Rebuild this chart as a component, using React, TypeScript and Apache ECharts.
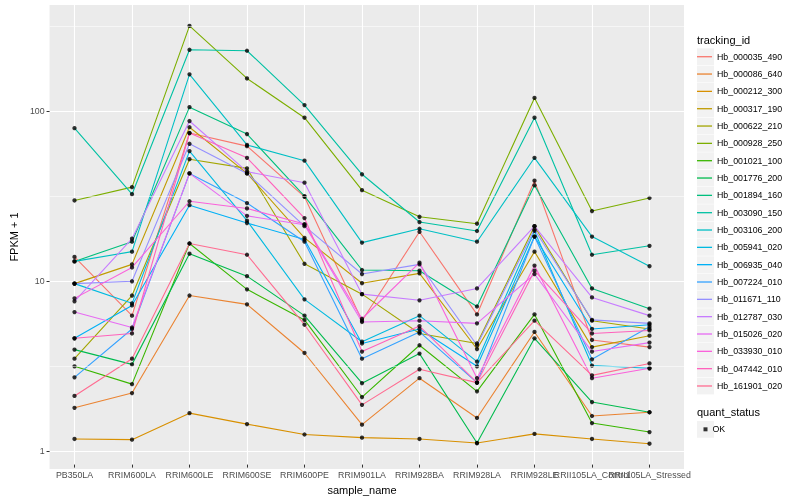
import React, { useEffect, useRef } from "react";
import * as echarts from "echarts";

const categories = [
  "PB350LA", "RRIM600LA", "RRIM600LE", "RRIM600SE", "RRIM600PE", "RRIM901LA",
  "RRIM928BA", "RRIM928LA", "RRIM928LE", "RRII105LA_Control", "RRII105LA_Stressed",
];

const trackingIds = [
  "Hb_000035_490", "Hb_000086_640", "Hb_000212_300", "Hb_000317_190", "Hb_000622_210",
  "Hb_000928_250", "Hb_001021_100", "Hb_001776_200", "Hb_001894_160", "Hb_003090_150",
  "Hb_003106_200", "Hb_005941_020", "Hb_006935_040", "Hb_007224_010", "Hb_011671_110",
  "Hb_012787_030", "Hb_015026_020", "Hb_033930_010", "Hb_047442_010", "Hb_161901_020",
];

const lineColors = [
  "#F8766D", "#EA8331", "#D89000", "#C09B00", "#A3A500", "#7CAE00", "#39B600", "#00BB4E",
  "#00BF7D", "#00C1A3", "#00BFC4", "#00BAE0", "#00B0F6", "#35A2FF", "#9590FF", "#C77CFF",
  "#E76BF3", "#FA62DB", "#FF62BC", "#FF6C91",
];

const quantStatus = ["OK"];
const yTicks = [1, 10, 100];
const yMinorTicks = [3.1623, 31.623, 316.23];

// FPKM + 1 values per tracking id, in category order
const hb_000035_490 = [13.4, 6.0, 73, 61, 30.5, 5.6, 18.9, 6.1, 38, 4.3, 3.9];
const hb_000086_640 = [1.7, 2.08, 7.9, 7.0, 3.6, 1.35, 2.55, 1.48, 4.8, 1.52, 1.6];
const hb_000212_300 = [1.11, 1.1, 1.58, 1.36, 1.18, 1.13, 1.11, 1.05, 1.19, 1.11, 1.04];
const hb_000317_190 = [9.3, 12.1, 79, 42, 17.4, 9.35, 10.7, 3.8, 14.4, 3.9, 4.56];
const hb_000622_210 = [3.33, 7.9, 51, 45, 12.2, 8.05, 4.7, 4.1, 20.4, 5.6, 5.0];
const hb_000928_250 = [29, 34.8, 316, 154, 90, 33.4, 23.2, 21.1, 118, 25.1, 30];
const hb_001021_100 = [3.0, 2.35, 16.1, 8.6, 5.66, 1.97, 4.0, 2.13, 6.1, 1.38, 1.22];
const hb_001776_200 = [3.77, 3.08, 14.0, 10.3, 6.0, 2.38, 3.57, 1.05, 4.4, 1.84, 1.6];
const hb_001894_160 = [12.6, 16.5, 104, 72, 30.8, 11.2, 11.1, 6.8, 35.7, 8.7, 6.6];
const hb_003090_150 = [78, 31.6, 228, 225, 107, 41.5, 21.6, 19.1, 90, 13.8, 15.6];
const hb_003106_200 = [12.6, 14.4, 163, 62, 50, 16.3, 19.7, 16.5, 52, 17.7, 11.8];
const hb_005941_020 = [9.3, 7.1, 57, 22, 7.5, 4.2, 6.0, 3.2, 19.1, 3.03, 2.92];
const hb_006935_040 = [4.4, 6.9, 27.2, 21.3, 17.0, 4.1, 5.0, 3.0, 17.7, 5.0, 5.3];
const hb_007224_010 = [2.58, 5.0, 42, 28, 16.5, 3.33, 4.8, 2.4, 17.7, 3.3, 5.15];
const hb_011671_110 = [9.3, 9.6, 63, 42, 20.4, 10.6, 12.1, 4.0, 19.5, 5.66, 5.4];
const hb_012787_030 = [7.3, 17.2, 86, 43, 37, 8.05, 7.4, 8.7, 20.4, 7.7, 6.0];
const hb_015026_020 = [6.3, 5.1, 42, 23.5, 20.8, 5.5, 5.6, 5.4, 10.6, 3.67, 4.15];
const hb_033930_010 = [7.6, 11.6, 28.7, 26, 21, 5.75, 12.4, 2.55, 11.9, 2.55, 2.92];
const hb_047442_010 = [4.4, 4.7, 73, 52, 22.8, 3.67, 5.2, 2.4, 11.1, 4.7, 4.9];
const hb_161901_020 = [2.0, 3.33, 16.1, 13.8, 5.3, 1.77, 2.88, 2.4, 5.6, 2.65, 3.12];

const seriesValues = [
  hb_000035_490, hb_000086_640, hb_000212_300, hb_000317_190, hb_000622_210,
  hb_000928_250, hb_001021_100, hb_001776_200, hb_001894_160, hb_003090_150,
  hb_003106_200, hb_005941_020, hb_006935_040, hb_007224_010, hb_011671_110,
  hb_012787_030, hb_015026_020, hb_033930_010, hb_047442_010, hb_161901_020,
];

const FONT = '"Liberation Sans", Arial, Helvetica, sans-serif';

export default function App() {
  const ref = useRef<HTMLDivElement>(null);

  useEffect(() => {
    if (!ref.current) return;
    const chart = echarts.init(ref.current, null, { renderer: "svg" });

    const W = 800;
    const H = 500;
    const panelLeft = 40;
    const panelRight = 684;
    const panelTop = 5;
    const panelBottom = 469;
    const step = (panelRight - panelLeft) / (categories.length - 1 + 1.2);
    const pad = 0.6 * step;
    const yMin = Math.pow(10, -0.107);
    const yMax = Math.pow(10, 2.624);

    const legendLeft = 697;
    const legendTop = 48.05;
    const legendPitch = 17.33;
    const okTop = 420.65;

    const keyBoxes: any[] = trackingIds.map((_, i) => ({
      type: "rect",
      silent: true,
      z: 0,
      shape: { x: legendLeft, y: legendTop + i * legendPitch + 0.3, width: 17, height: 16.8 },
      style: { fill: "#F2F2F2" },
    }));
    keyBoxes.push({
      type: "rect",
      silent: true,
      z: 0,
      shape: { x: legendLeft, y: okTop + 0.3, width: 17, height: 16.8 },
      style: { fill: "#F2F2F2" },
    });

    const pointData: any[] = [];
    seriesValues.forEach((vals) => {
      vals.forEach((v, j) => pointData.push([categories[j], v]));
    });

    const lineSeries = trackingIds.map((id, i) => ({
      name: id,
      type: "line",
      xAxisIndex: 1,
      yAxisIndex: 1,
      data: seriesValues[i],
      color: lineColors[i],
      symbol: "none",
      showSymbol: false,
      lineStyle: { color: lineColors[i], width: 1.1 },
      silent: true,
      z: 2,
    }));

    const option: any = {
      animation: false,
      textStyle: { fontFamily: FONT },
      title: [
        {
          text: "tracking_id",
          left: legendLeft,
          top: 34,
          padding: 0,
          textStyle: { fontSize: 11, fontWeight: "normal", color: "#000000", fontFamily: FONT },
        },
        {
          text: "quant_status",
          left: legendLeft,
          top: 406,
          padding: 0,
          textStyle: { fontSize: 11, fontWeight: "normal", color: "#000000", fontFamily: FONT },
        },
      ],
      legend: [
        {
          data: trackingIds,
          orient: "vertical",
          left: legendLeft,
          top: legendTop,
          padding: 0,
          itemGap: 0,
          itemWidth: 15,
          itemHeight: 1.3,
          icon: "rect",
          selectedMode: false,
          itemStyle: { borderWidth: 0 },
          textStyle: { fontSize: 8.8, lineHeight: legendPitch, color: "#000000", fontFamily: FONT },
        },
        {
          data: quantStatus,
          orient: "vertical",
          left: legendLeft + 6.5,
          top: okTop,
          padding: 0,
          itemGap: 0,
          itemWidth: 4,
          itemHeight: 4,
          icon: "rect",
          selectedMode: false,
          itemStyle: { borderWidth: 0 },
          textStyle: { fontSize: 8.8, lineHeight: legendPitch, color: "#000000", fontFamily: FONT },
        },
      ],
      grid: [
        {
          left: panelLeft,
          right: W - panelRight,
          top: panelTop,
          bottom: H - panelBottom,
          show: true,
          backgroundColor: "#EBEBEB",
          borderWidth: 0,
        },
        {
          left: panelLeft + pad,
          right: W - panelRight + pad,
          top: panelTop,
          bottom: H - panelBottom,
          show: false,
        },
      ],
      xAxis: [
        { gridIndex: 0, type: "value", min: 0, max: 1, show: false },
        {
          gridIndex: 1,
          type: "category",
          data: categories,
          boundaryGap: false,
          axisLine: { show: false },
          axisTick: { show: true, length: 3, lineStyle: { color: "#333333", width: 1 } },
          axisLabel: { interval: 0, fontSize: 8.8, color: "#4D4D4D", margin: 5.5, fontFamily: FONT },
          splitLine: { show: true, lineStyle: { color: "#FFFFFF", width: 1.1 } },
          name: "sample_name",
          nameLocation: "middle",
          nameGap: 14.5,
          nameTextStyle: { fontSize: 11, color: "#000000", fontFamily: FONT },
          z: 1,
        },
      ],
      yAxis: [
        {
          gridIndex: 0,
          type: "log",
          logBase: 10,
          min: yMin,
          max: yMax,
          axisLine: { show: false },
          axisTick: { show: true, length: 3, customValues: yTicks, lineStyle: { color: "#333333", width: 1 } },
          axisLabel: { customValues: yTicks, fontSize: 8.8, color: "#4D4D4D", margin: 5, fontFamily: FONT },
          splitLine: { show: true, lineStyle: { color: "#FFFFFF", width: 1.1 } },
          name: "FPKM + 1",
          nameLocation: "middle",
          nameGap: 22,
          nameRotate: 90,
          nameTextStyle: { fontSize: 11, color: "#000000", fontFamily: FONT },
          z: 1,
        },
        { gridIndex: 1, type: "log", logBase: 10, min: yMin, max: yMax, show: false },
      ],
      graphic: keyBoxes,
      series: [
        {
          name: "minor-grid",
          type: "line",
          xAxisIndex: 0,
          yAxisIndex: 0,
          data: [],
          silent: true,
          z: 1,
          markLine: {
            silent: true,
            symbol: ["none", "none"],
            label: { show: false },
            lineStyle: { color: "#FFFFFF", width: 0.55, type: "solid" },
            emphasis: { disabled: true },
            data: yMinorTicks.map((v) => ({ yAxis: v })),
          },
        },
        ...lineSeries,
        {
          name: "OK",
          type: "scatter",
          xAxisIndex: 1,
          yAxisIndex: 1,
          data: pointData,
          symbol: "circle",
          symbolSize: 4.3,
          itemStyle: { color: "#000000" },
          silent: true,
          z: 3,
        },
      ],
    };

    chart.setOption(option);
    return () => {
      chart.dispose();
    };
  }, []);

  return (
    <div
      ref={ref}
      style={{ position: "fixed", left: 0, top: 0, width: 800, height: 500 }}
    />
  );
}
